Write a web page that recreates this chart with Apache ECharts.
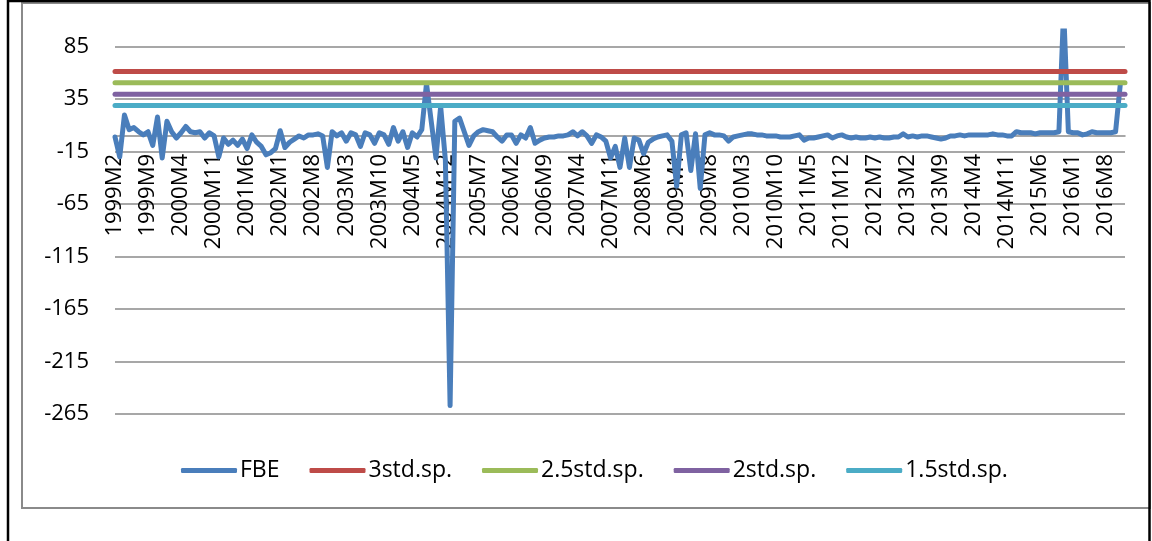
<!DOCTYPE html>
<html>
<head>
<meta charset="utf-8">
<script src="https://cdn.jsdelivr.net/npm/echarts@6/dist/echarts.min.js"></script>
<style>
  html, body { margin: 0; padding: 0; background: #ffffff; }
  #chart { width: 1152px; height: 541px; }
</style>
</head>
<body>
<div id="chart"></div>
<script>
// Monthly periods 1999M2 .. 2016M12
const startYear = 1999, startMonth = 2, endYear = 2016, endMonth = 12;
const categories = [];
for (let y = startYear, m = startMonth; y < endYear || (y === endYear && m <= endMonth); ) {
  categories.push(y + 'M' + m);
  m++;
  if (m > 12) { m = 1; y++; }
}

// FBE index, one value per month
const fbe = [
  // 1999M2 - 2002M8
  -1, -20, 20, 6, 8, 4, 1, 4, -9, 18,
  -21, 14, 4, -2, 3, 9, 4, 3, 4, -2,
  3, 0, -20, -2, -8, -4, -9, -3, -12, 1,
  -6, -10, -18, -16, -12, 5, -11, -6, -3, 0,
  -2, 1, 1,
  // 2002M9 - 2006M6
  2, 0, -30, 4, 0, 3, -5, 3, 1, -10,
  3, 1, -7, 3, 1, -8, 8, -5, 4, -11,
  3, -1, 6, 50, 14, -21, 28, -23, -257, 14,
  17, 4, -9, 0, 4, 6, 5, 4, -1, -5,
  1, 1, -7, 1, -2, 8,
  // 2006M7 - 2009M10
  -7, -4, -2, -1, -1, 0, 0, 1, 4, 0,
  4, 0, -7, 1, -1, -5, -21, -10, -30, -2,
  -30, -2, -4, -17, -6, -3, -1, 0, 1, -5,
  -48, 1, 3, -33, 2, -50, 1, 3, 1, 1,
  // 2009M11 - 2013M5
  0, -5, -1, 0, 1, 2, 2, 1, 1,
  0, 0, 0, -1, -1, -1, 0, 1, -4, -2,
  -2, -1, 0, 1, -2, 0, 1, -1, -2, -1,
  -2, -2, -1, -2, -1, -2, -2, -1, -1,
  2, -1, 0, -1,
  // 2013M6 - 2016M12
  0, 0, -1, -2, -3, -2, 0, 0, 1, 0,
  1, 1, 1, 1, 1, 2, 1, 1, 0, 0,
  4, 3, 3, 3, 2, 3, 3, 3, 3, 4,
  120, 4, 3, 3, 1, 2, 4, 3, 3, 3,
  3, 4, 49
];

// Threshold levels (mean + k * std)
const std3 = 61.4;
const std25 = 50.6;
const std2 = 39.8;
const std15 = 29.0;

const seriesNames = ['FBE', '3std.sp.', '2.5std.sp.', '2std.sp.', '1.5std.sp.'];
const seriesColors = ['#4A7EBB', '#BE4B48', '#9BBB59', '#7F62A1', '#4BACC6'];

// Value axis ticks
const yMin = -265, yMax = 100, yStep = 50;

const levelSeries = (level) => categories.map(() => level);

const FONT = '"Open Sans", "Noto Sans", sans-serif';

// plot box
const GRID = { left: 115, right: 27, top: 31, bottom: 127 };
const plotHeight = 541 - GRID.top - GRID.bottom;
// category axis sits at the value 0 crossing
const zeroOffset = -plotHeight * (0 - yMin) / (yMax - yMin);

function lineSeries(name, data, color) {
  return {
    name: name,
    type: 'line',
    data: data,
    showSymbol: false,
    symbol: 'none',
    smooth: false,
    lineStyle: { color: color, width: 5, cap: 'round', join: 'round' },
    itemStyle: { color: color },
    emphasis: { disabled: true },
    animation: false
  };
}

const chart = echarts.init(document.getElementById('chart'), null, { renderer: 'canvas' });
chart.setOption({
  backgroundColor: '#ffffff',
  animation: false,
  graphic: [
    { type: 'rect', shape: { x: 22, y: 3, width: 1128, height: 505 },
      style: { fill: 'none', stroke: '#8a8a8a', lineWidth: 2 }, silent: true, z: -1 },
    { type: 'line', shape: { x1: 8, y1: 0, x2: 8, y2: 541 },
      style: { stroke: '#000000', lineWidth: 2.5 }, silent: true },
    { type: 'line', shape: { x1: 8, y1: 1, x2: 1150, y2: 1 },
      style: { stroke: '#000000', lineWidth: 2.5 }, silent: true },
    { type: 'line', shape: { x1: 1149.5, y1: 0, x2: 1149.5, y2: 541 },
      style: { stroke: '#000000', lineWidth: 2.5 }, silent: true }
  ],
  grid: { left: GRID.left, right: GRID.right, top: GRID.top, bottom: GRID.bottom, containLabel: false },
  legend: {
    data: seriesNames,
    left: 176,
    top: 454,
    icon: 'roundRect',
    itemWidth: 56,
    itemHeight: 5,
    itemGap: 30,
    textStyle: { fontFamily: FONT, fontSize: 23, color: '#000000', padding: [0, 0, 0, -2] },
    selectedMode: false
  },
  xAxis: {
    type: 'category',
    data: categories,
    boundaryGap: false,
    position: 'bottom',
    offset: zeroOffset,
    axisLine: { show: true, onZero: false, lineStyle: { color: '#8a8a8a', width: 1.5 } },
    axisTick: { show: false },
    axisLabel: {
      interval: 6,
      rotate: 90,
      margin: 18,
      fontFamily: FONT,
      fontSize: 22,
      color: '#000000'
    },
    splitLine: { show: false }
  },
  yAxis: {
    type: 'value',
    min: yMin,
    max: yMax,
    interval: yStep,
    axisLine: { show: false },
    axisTick: { show: false },
    axisLabel: {
      showMaxLabel: false,
      margin: 26,
      fontFamily: FONT,
      fontSize: 22,
      color: '#000000'
    },
    splitLine: { show: true, showMaxLine: false, lineStyle: { color: '#8a8a8a', width: 1.5 } }
  },
  series: [
    lineSeries(seriesNames[0], fbe, seriesColors[0]),
    lineSeries(seriesNames[1], levelSeries(std3), seriesColors[1]),
    lineSeries(seriesNames[2], levelSeries(std25), seriesColors[2]),
    lineSeries(seriesNames[3], levelSeries(std2), seriesColors[3]),
    lineSeries(seriesNames[4], levelSeries(std15), seriesColors[4])
  ]
});
</script>
</body>
</html>
